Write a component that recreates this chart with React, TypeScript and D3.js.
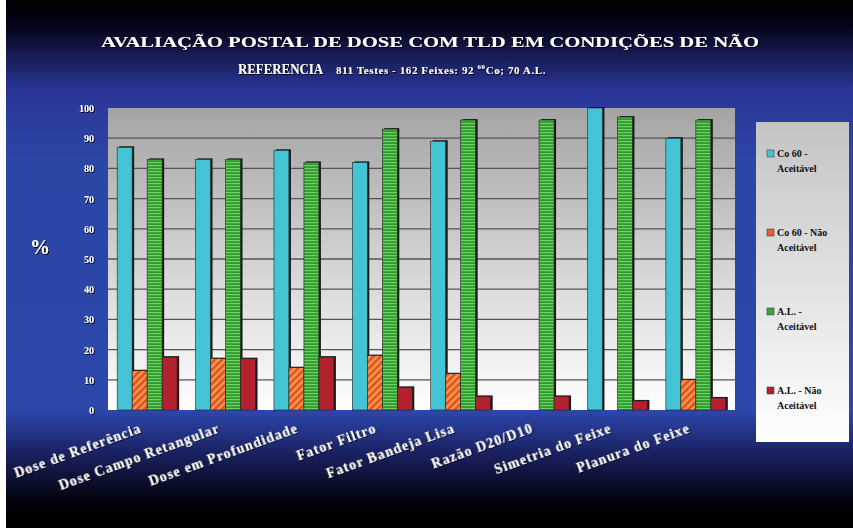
import React from "react";
import * as d3 from "d3";

const categories = [
  "Dose de Referência",
  "Dose Campo Retangular",
  "Dose em Profundidade",
  "Fator Filtro",
  "Fator Bandeja Lisa",
  "Razão D20/D10",
  "Simetria do Feixe",
  "Planura do Feixe",
];
const seriesNames = ["Co 60 - Aceitável", "Co 60 - Não Aceitável", "A.L. - Aceitável", "A.L. - Não Aceitável"];
const legendLines = [["Co 60 -", "Aceitável"], ["Co 60 - Não", "Aceitável"], ["A.L. -", "Aceitável"], ["A.L. - Não", "Aceitável"]];
const coAceitavel = [87, 83, 86, 82, 89, 0, 100, 90];
const coNaoAceitavel = [13, 17, 14, 18, 12, 0, 0, 10];
const alAceitavel = [83, 83, 82, 93, 96, 96, 97, 96];
const alNaoAceitavel = [17.5, 17, 17.5, 7.5, 4.5, 4.5, 3, 4];
const yTicks = [0, 10, 20, 30, 40, 50, 60, 70, 80, 90, 100];

const series = [coAceitavel, coNaoAceitavel, alAceitavel, alNaoAceitavel];
const fills = ["#43c3d3", "url(#hatchOrange)", "url(#stripeGreen)", "#b3202e"];
const legendFills = ["#43c3d3", "#e0603a", "#3fa03f", "#b3202e"];

const W = 853, H = 528;
const plot = { left: 108, right: 735, top: 108, bottom: 410 };

export default function App() {
  const x0 = d3.scaleBand().domain(categories).range([plot.left, plot.right]).paddingInner(0.235).paddingOuter(0.117);
  const x1 = d3.scaleBand().domain(d3.range(4).map(String)).range([0, x0.bandwidth()]);
  const y = d3.scaleLinear().domain([0, 100]).range([plot.bottom, plot.top]);
  const serif = "'Liberation Serif', 'Times New Roman', serif";

  return (
    <svg width={W} height={H} style={{ position: "absolute", left: 0, top: 0 }}>
      <defs>
        <linearGradient id="bg" x1="0" y1="0" x2="0" y2="1">
          <stop offset="0" stopColor="#000000" />
          <stop offset="0.05" stopColor="#05051a" />
          <stop offset="0.17" stopColor="#2a3596" />
          <stop offset="0.3" stopColor="#2c46a6" />
          <stop offset="0.78" stopColor="#2c46aa" />
          <stop offset="0.86" stopColor="#1a2060" />
          <stop offset="0.95" stopColor="#02030a" />
          <stop offset="1" stopColor="#000000" />
        </linearGradient>
        <linearGradient id="plotBg" x1="0" y1="0" x2="0" y2="1">
          <stop offset="0" stopColor="#a4a4a4" />
          <stop offset="0.5" stopColor="#d2d2d2" />
          <stop offset="1" stopColor="#ffffff" />
        </linearGradient>
        <linearGradient id="legBg" x1="0" y1="0" x2="0" y2="1">
          <stop offset="0" stopColor="#c4c4c4" />
          <stop offset="1" stopColor="#ffffff" />
        </linearGradient>
        <pattern id="hatchOrange" width="5" height="5" patternUnits="userSpaceOnUse" patternTransform="rotate(45)">
          <rect width="5" height="5" fill="#f39a50" />
          <rect width="2.5" height="5" fill="#e0501e" />
        </pattern>
        <pattern id="stripeGreen" width="4" height="3" patternUnits="userSpaceOnUse">
          <rect width="4" height="3" fill="#2f9a2f" />
          <rect width="4" height="1.2" fill="#6fd060" />
        </pattern>
        <filter id="tshadow" x="-10%" y="-10%" width="120%" height="140%">
          <feDropShadow dx="1" dy="1" stdDeviation="0.4" floodColor="#000" floodOpacity="0.9" />
        </filter>
      </defs>
      <rect x={0} y={0} width={W} height={H} fill="url(#bg)" />
      <rect x={0} y={0} width={6} height={H} fill="#ffffff" />

      {/* Title */}
      <text x={430} y={47} textAnchor="middle" fill="#ffffff" fontFamily={serif} fontWeight="bold" fontSize={15}
        textLength={658} lengthAdjust="spacingAndGlyphs" filter="url(#tshadow)">
        AVALIAÇÃO POSTAL DE DOSE COM TLD EM CONDIÇÕES DE NÃO
      </text>
      <text x={238} y={74} fill="#ffffff" fontFamily={serif} fontWeight="bold" fontSize={14}
        textLength={85} lengthAdjust="spacingAndGlyphs" filter="url(#tshadow)">REFERENCIA</text>
      <text x={336} y={74} fill="#ffffff" fontFamily={serif} fontWeight="bold" fontSize={11} letterSpacing={0.6}
        filter="url(#tshadow)">
        <tspan>811 Testes - 162 Feixes: 92 </tspan>
        <tspan dy={-5} fontSize={7}>60</tspan>
        <tspan dy={5}>Co; 70 A.L.</tspan>
      </text>

      {/* Plot area */}
      <rect x={plot.left} y={plot.top} width={plot.right - plot.left} height={plot.bottom - plot.top} fill="url(#plotBg)" />
      {yTicks.map((t) => (
        <g key={t}>
          {t > 0 && t < 100 && (
            <line x1={plot.left} x2={plot.right} y1={y(t)} y2={y(t)} stroke="#555" strokeWidth={1.3} />
          )}
          <text x={94} y={y(t) + 4} textAnchor="end" fill="#ffffff" fontFamily={serif} fontWeight="bold" fontSize={10}
            filter="url(#tshadow)">{t}</text>
        </g>
      ))}
      <text x={40} y={254} textAnchor="middle" fill="#ffffff" fontFamily={serif} fontWeight="bold" fontSize={20}
        filter="url(#tshadow)">%</text>

      {/* Bars */}
      {categories.map((c, i) => (
        <g key={c}>
          {series.map((s, k) => {
            const v = s[i];
            if (!v) return null;
            const bx = (x0(c) as number) + (x1(String(k)) as number);
            const bw = x1.bandwidth();
            const by = y(v);
            const bh = plot.bottom - by;
            return (
              <g key={k}>
                <rect x={bx + 2} y={by - 1} width={bw} height={bh + 1} fill="#1a1a1a" />
                <rect x={bx} y={by} width={bw} height={bh} fill={fills[k]} stroke="#222" strokeWidth={0.6} />
              </g>
            );
          })}
        </g>
      ))}

      {/* X labels */}
      {categories.map((c) => {
        const cx = (x0(c) as number) + x0.bandwidth() / 2;
        return (
          <text key={c} x={0} y={0} transform={`translate(${cx - 5},${432}) rotate(-20)`} textAnchor="end"
            fill="#ffffff" fontFamily={serif} fontWeight="bold" fontSize={14} letterSpacing={1.1}
            filter="url(#tshadow)">{c}</text>
        );
      })}

      {/* Legend */}
      <rect x={756} y={122} width={93} height={320} fill="url(#legBg)" />
      {seriesNames.map((n, k) => {
        const ly = 157 + k * 79;
        return (
          <g key={n}>
            <rect x={767} y={ly - 7} width={7} height={7} fill={legendFills[k]} stroke="#333" strokeWidth={0.5} />
            <text x={777} y={ly} fill="#111" fontFamily={serif} fontWeight="bold" fontSize={10}>{legendLines[k][0]}</text>
            <text x={777} y={ly + 15} fill="#111" fontFamily={serif} fontWeight="bold" fontSize={10}>{legendLines[k][1]}</text>
          </g>
        );
      })}
    </svg>
  );
}
